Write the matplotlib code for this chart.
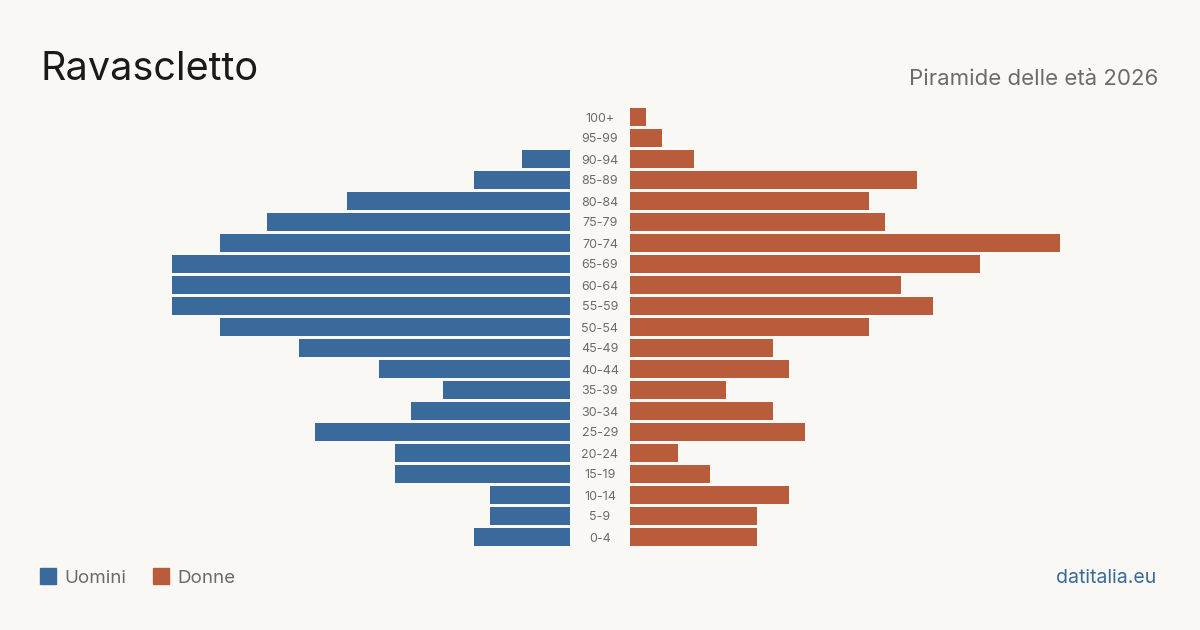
import matplotlib.pyplot as plt
from matplotlib.patches import Rectangle

# --- dati ---
fasce = ["100+", "95-99", "90-94", "85-89", "80-84", "75-79", "70-74", "65-69",
         "60-64", "55-59", "50-54", "45-49", "40-44", "35-39", "30-34", "25-29",
         "20-24", "15-19", "10-14", "5-9", "0-4"]
uomini = [0, 0, 3, 6, 14, 19, 22, 25, 25, 25, 22, 17, 12, 8, 10, 16, 11, 11, 5, 5, 6]
donne = [1, 2, 4, 18, 15, 16, 27, 22, 17, 19, 15, 9, 10, 6, 9, 11, 3, 5, 10, 8, 8]

BG = "#f9f8f4"
BLU = "#3a6a9b"
ARANCIO = "#b95c3c"
GRIGIO = "#6b6b6b"
plt.rcParams["font.family"] = ["Inter", "DejaVu Sans"]

W, H = 1200, 630
fig = plt.figure(figsize=(12, 6.3), dpi=100, facecolor=BG)

def px_axes(x0, x1, y0, y1):
    return fig.add_axes([x0 / W, 1 - y1 / H, (x1 - x0) / W, (y1 - y0) / H])

vmax = max(max(uomini), max(donne))
y_top, y_bot = 106.5, 547.5
pos = list(range(len(fasce)))

ax_l = px_axes(140, 570, y_top, y_bot)
ax_r = px_axes(630, 1060, y_top, y_bot)
for ax in (ax_l, ax_r):
    ax.set_facecolor("none")
    ax.set_ylim(len(fasce) - 0.5, -0.5)
    ax.axis("off")

ax_l.barh(pos, uomini, height=0.81, color=BLU)
ax_l.set_xlim(vmax, 0)
ax_r.barh(pos, donne, height=0.81, color=ARANCIO)
ax_r.set_xlim(0, vmax)

# etichette delle fasce al centro
ax_c = px_axes(570, 630, y_top + 1.5, y_bot + 1.5)
ax_c.set_facecolor("none")
ax_c.axis("off")
ax_c.set_xlim(0, 1)
ax_c.set_ylim(len(fasce) - 0.5, -0.5)
for i, f in enumerate(fasce):
    ax_c.text(0.5, i, f, ha="center", va="center", fontsize=9, color=GRIGIO)

# titoli
fig.text(41 / W, 1 - 80 / H, "Ravascletto", fontsize=28.5, color="#1a1a1a", va="baseline")
fig.text(1158 / W, 1 - 85 / H, "Piramide delle età 2026", fontsize=16, color=GRIGIO,
         ha="right", va="baseline")

# legenda
fig.patches.append(Rectangle((40 / W, 1 - 584 / H), 16 / W, 16 / H,
                             transform=fig.transFigure, color=BLU))
fig.text(64 / W, 1 - 583 / H, "Uomini", fontsize=13.5, color=GRIGIO, va="baseline")
fig.patches.append(Rectangle((153 / W, 1 - 584 / H), 16 / W, 16 / H,
                             transform=fig.transFigure, color=ARANCIO))
fig.text(177 / W, 1 - 583 / H, "Donne", fontsize=13.5, color=GRIGIO, va="baseline")

fig.text(1156 / W, 1 - 583 / H, "datitalia.eu", fontsize=14, color=BLU,
         ha="right", va="baseline")

fig.savefig("out.png", dpi=100, facecolor=BG)
